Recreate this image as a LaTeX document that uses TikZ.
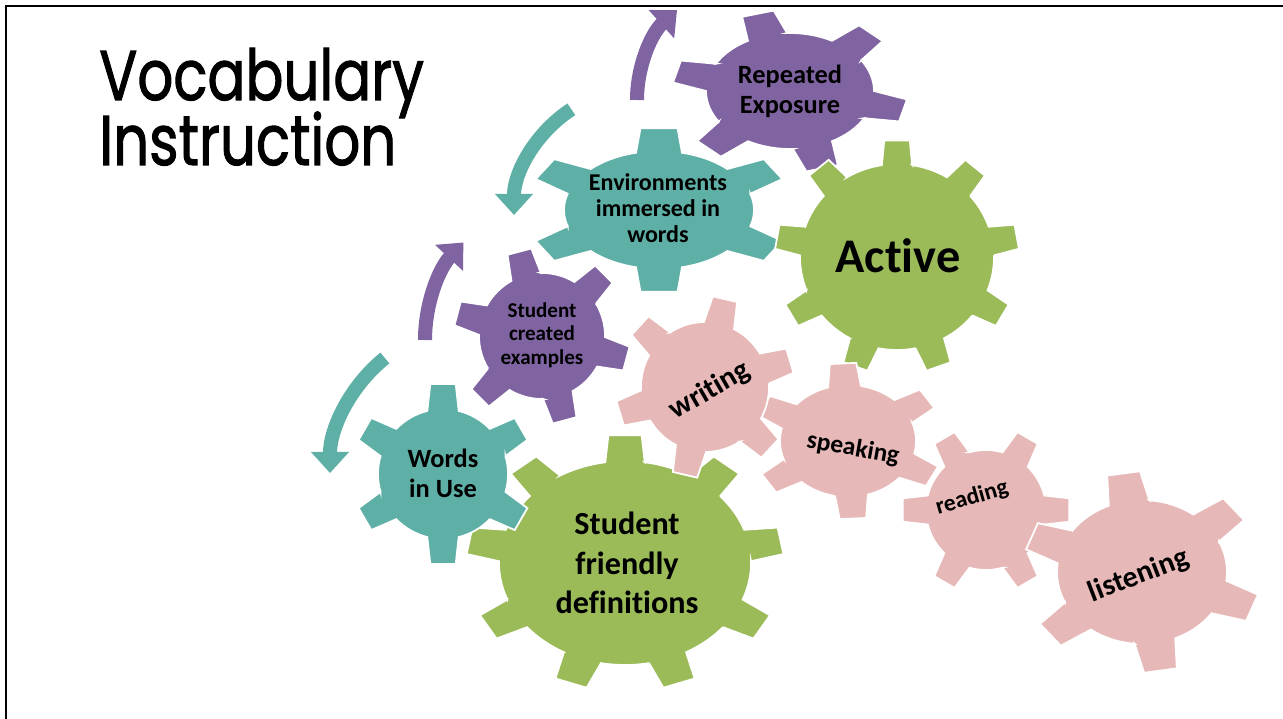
\documentclass[tikz,border=0pt]{standalone}
\usepackage{fontspec}
\setmainfont[Ligatures={NoCommon}]{Carlito}
\newfontfamily\titlefont[FakeBold=1.6]{Poppins}
\usetikzlibrary{arrows.meta,positioning,calc}

\definecolor{gearpurple}{RGB}{128,100,162}
\definecolor{gearteal}{RGB}{94,176,166}
\definecolor{geargreen}{RGB}{155,187,89}
\definecolor{gearpink}{RGB}{230,184,183}

% #1 x, #2 y, #3 rx, #4 ry, #5 teeth, #6 first tooth, #7 colour
\newcommand{\gearshape}[7]{%
  \pgfmathsetmacro\gsp{360/#5}%
  \pgfmathtruncatemacro\glast{#5-1}%
  \ifnum#5=9 \def\gbw{9}\def\gtw{6}\def\gtr{1.26}\else\def\gbw{14}\def\gtw{8}\def\gtr{1.4}\fi
  \begin{scope}[shift={(#1,#2)}, xscale=#3, yscale=-#4]
    \fill[#7, draw=white, line width=1pt] ({#6-\gbw}:1)
      \foreach \k in {0,...,\glast} {
        -- ({#6+\k*\gsp-\gbw}:1) -- ({#6+\k*\gsp-\gtw}:\gtr)
        -- ({#6+\k*\gsp+\gtw}:\gtr) -- ({#6+\k*\gsp+\gbw}:1)
        arc[start angle={#6+\k*\gsp+\gbw}, end angle={#6+(\k+1)*\gsp-\gbw}, radius=1]
      } -- cycle;
  \end{scope}}

% #1 x, #2 y centre, #3 radius, #4 start, #5 end, #6 colour
\newcommand{\bentarrow}[6]{%
  \begin{scope}[shift={(#1,#2)}, yscale=-1]
    \draw[#6, line width=8pt, -{Triangle[width=21pt,length=12pt]}]
      (#4:#3) arc[start angle=#4, end angle=#5, radius=#3];
  \end{scope}}

\begin{document}
\begin{tikzpicture}[x=0.02cm, y=-0.02cm,
    lbl/.style={align=center, inner sep=0pt, font=\bfseries},
    title/.style={inner sep=0pt, anchor=base west, font=\titlefont\fontsize{40}{37}\selectfont}
  ]
  \useasboundingbox (0,0) rectangle (1283,719);
  \draw[line width=1.3pt] (6,719) -- (6,6) -- (1283,6);

  \node[title] (title1) at (99,100) {\scalebox{0.8}[1]{Vocabulary}};
  \node[title] (title2) at (99,165) {\scalebox{0.8}[1]{Instruction}};

  \bentarrow{758}{100}{121}{180}{132}{gearpurple}
  \bentarrow{640}{215}{126}{123}{180}{gearteal}
  \bentarrow{568}{340}{143}{180}{137}{gearpurple}
  \bentarrow{478}{473}{148}{129}{180}{gearteal}

  \gearshape{625}{563}{126}{102}{9}{90}{geargreen}
  \gearshape{443}{474}{65}{65}{6}{30}{gearteal}
  \gearshape{542}{336}{63}{63}{6}{45}{gearpurple}
  \gearshape{659}{210}{95}{59}{6}{30}{gearteal}
  \gearshape{790}{91}{84}{58}{6}{-14}{gearpurple}
  \gearshape{897}{257}{97}{93}{9}{90}{geargreen}
  \gearshape{848}{441}{68}{56}{6}{33}{gearpink}
  \gearshape{705}{387}{64}{65}{6}{17}{gearpink}
  \gearshape{986}{510}{60}{60}{6}{0}{gearpink}
  \gearshape{1142}{572}{85}{72}{6}{39}{gearpink}

  \node[lbl, font=\bfseries\fontsize{15}{17}\selectfont] (repeated) at (790,91) {Repeated\\Exposure};
  \node[lbl, font=\bfseries\fontsize{13.7}{15}\selectfont] (environments) at (658,208) {Environments\\immersed in\\words};
  \node[lbl, font=\bfseries\fontsize{27.5}{30}\selectfont] (active) at (898,256) {Active};
  \node[lbl, font=\bfseries\fontsize{12}{13.5}\selectfont] (created) at (542,335) {Student\\created\\examples};
  \node[lbl, font=\bfseries\fontsize{15}{17}\selectfont] (wordsuse) at (443,473) {Words\\in Use};
  \node[lbl, font=\bfseries\fontsize{18.3}{22.5}\selectfont] (friendly) at (627,563) {Student\\friendly\\definitions};
  \node[lbl, font=\bfseries\fontsize{17}{19}\selectfont, rotate=30] (writing) at (710,391) {writ\kern0pt ing};
  \node[lbl, font=\bfseries\fontsize{14.5}{16}\selectfont, rotate=-10] (speaking) at (853,449) {speaking};
  \node[lbl, font=\bfseries\fontsize{13.5}{16}\selectfont, rotate=16] (reading) at (972,498) {reading};
  \node[lbl, font=\bfseries\fontsize{17}{19}\selectfont, rotate=21] (listening) at (1139,576) {listening};
\end{tikzpicture}
\end{document}
